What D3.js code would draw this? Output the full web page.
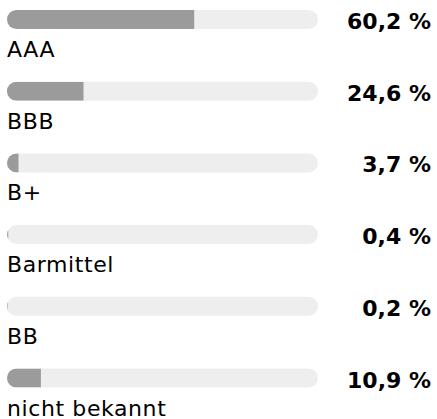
<!DOCTYPE html>
<html>
<head>
<meta charset="utf-8">
<script src="https://cdn.jsdelivr.net/npm/d3@7"></script>
<style>
  body { margin: 0; background: #fff; }
</style>
</head>
<body>
<svg id="chart" width="437" height="419"></svg>
<script>
const categories = ["AAA", "BBB", "B+", "Barmittel", "BB", "nicht bekannt"];
const values = [60.2, 24.6, 3.7, 0.4, 0.2, 10.9];
const valueLabels = ["60,2 %", "24,6 %", "3,7 %", "0,4 %", "0,2 %", "10,9 %"];

const rows = categories.map((c, i) => ({cat: c, value: values[i], label: valueLabels[i], i: i}));

const svg = d3.select('#chart');
const barH = 19;

const x = d3.scaleLinear()
  .domain([0, 100])
  .range([7, 318]);

const y = d3.scaleBand()
  .domain(d3.range(categories.length))
  .range([10, 10 + 71.7 * categories.length])
  .paddingInner(0);

const defs = svg.append('defs');

const row = svg.selectAll('g.row')
  .data(rows)
  .join('g')
    .attr('class', 'row')
    .attr('transform', d => `translate(0, ${y(d.i)})`);

// clip each fill to the rounded track
defs.selectAll('clipPath')
  .data(rows)
  .join('clipPath')
    .attr('id', d => 'clip' + d.i)
  .append('rect')
    .attr('x', x(0))
    .attr('y', 0)
    .attr('width', x(100) - x(0))
    .attr('height', barH)
    .attr('rx', barH / 2);

row.append('rect')
  .attr('x', x(0))
  .attr('y', 0)
  .attr('width', x(100) - x(0))
  .attr('height', barH)
  .attr('rx', barH / 2)
  .attr('fill', '#eeeeee');

row.append('rect')
  .attr('clip-path', d => `url(#clip${d.i})`)
  .attr('x', x(0))
  .attr('y', 0)
  .attr('width', d => x(d.value) - x(0))
  .attr('height', barH)
  .attr('fill', '#9b9b9b');

row.append('text')
  .attr('x', 431)
  .attr('y', 19)
  .attr('text-anchor', 'end')
  .style('font-family', '"DejaVu Sans", sans-serif')
  .style('font-weight', 'bold')
  .style('font-size', '22px')
  .attr('fill', '#000')
  .text(d => d.label);

row.append('text')
  .attr('x', 7)
  .attr('y', 47)
  .style('font-family', '"DejaVu Sans", sans-serif')
  .style('font-size', '22px')
  .style('letter-spacing', '0.6px')
  .attr('fill', '#000')
  .text(d => d.cat);
</script>
</body>
</html>
